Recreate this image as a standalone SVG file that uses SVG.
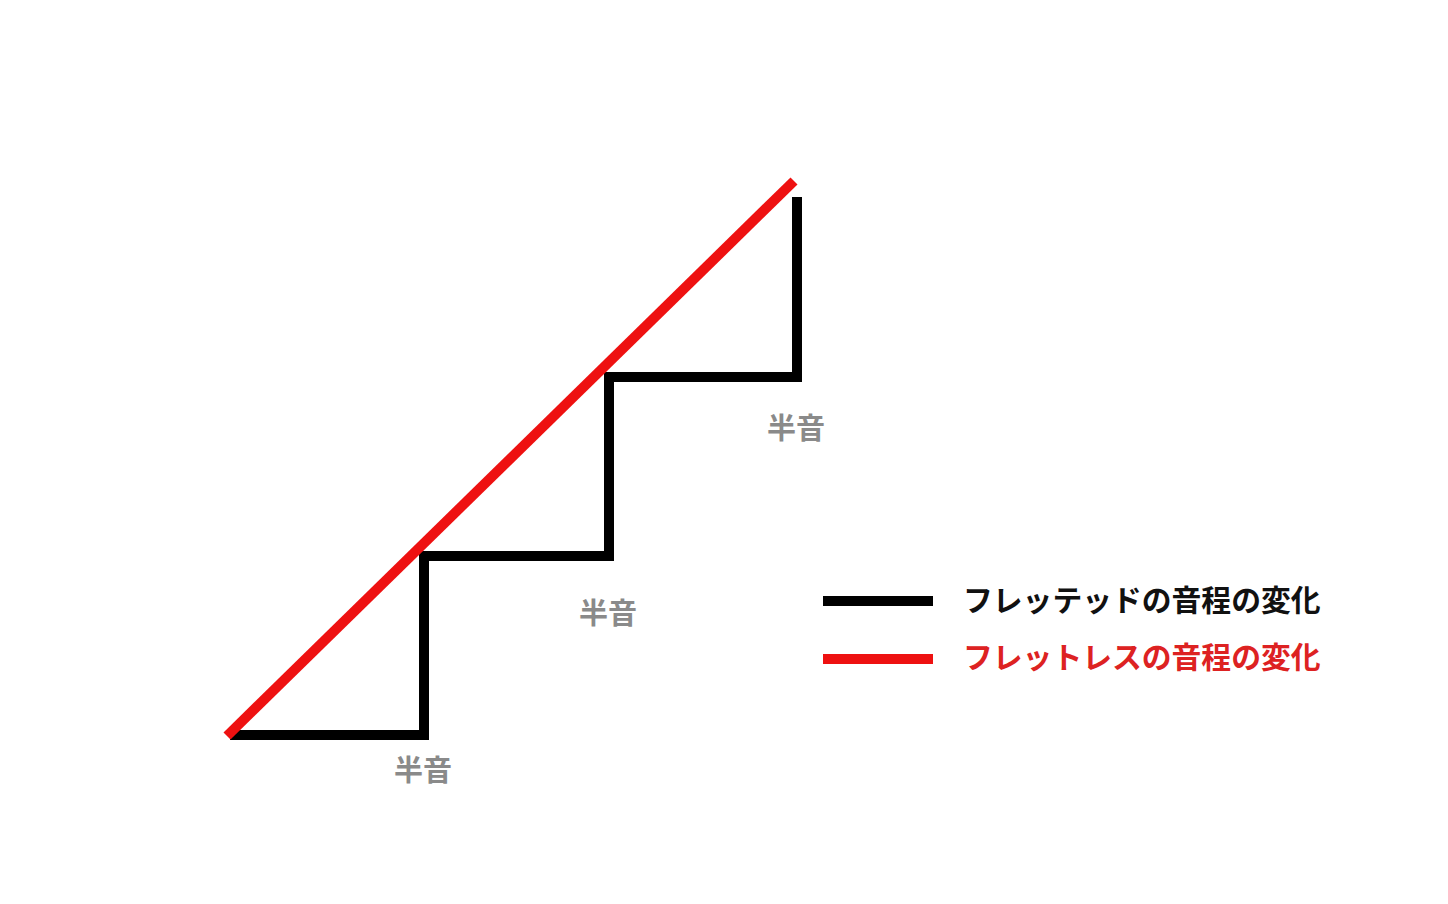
<svg xmlns="http://www.w3.org/2000/svg" width="1448" height="904" viewBox="0 0 1448 904">
<style>
.lbl{font-family:"Noto Sans CJK JP","Noto Sans CJK SC",sans-serif;font-weight:bold;font-size:29px;fill:#8a8a8a;text-anchor:middle}
.leg{font-family:"Noto Sans CJK JP","Noto Sans CJK SC",sans-serif;font-weight:bold;font-size:29.8px}
</style>
<rect width="1448" height="904" fill="#ffffff"/>
<g id="connectors">
<path id="fretted" d="M230 735 H424 V556 H609 V377 H797 V197" fill="none" stroke="#000000" stroke-width="10"/>
<line id="fretless" x1="227" y1="736" x2="794" y2="181" stroke="#ee1111" stroke-width="10"/>
</g>
<g id="label-1"><text class="lbl" x="423" y="781">半音</text></g>
<g id="label-2"><text class="lbl" x="608" y="624">半音</text></g>
<g id="label-3"><text class="lbl" x="796" y="439">半音</text></g>
<g id="legend">
<line x1="823" y1="601" x2="933" y2="601" stroke="#000000" stroke-width="10"/>
<text class="leg" x="963" y="611" fill="#111111">フレッテッドの音程の変化</text>
<line x1="823" y1="659" x2="933" y2="659" stroke="#ee1111" stroke-width="10"/>
<text class="leg" x="963" y="668" fill="#dd2222">フレットレスの音程の変化</text>
</g>
</svg>
